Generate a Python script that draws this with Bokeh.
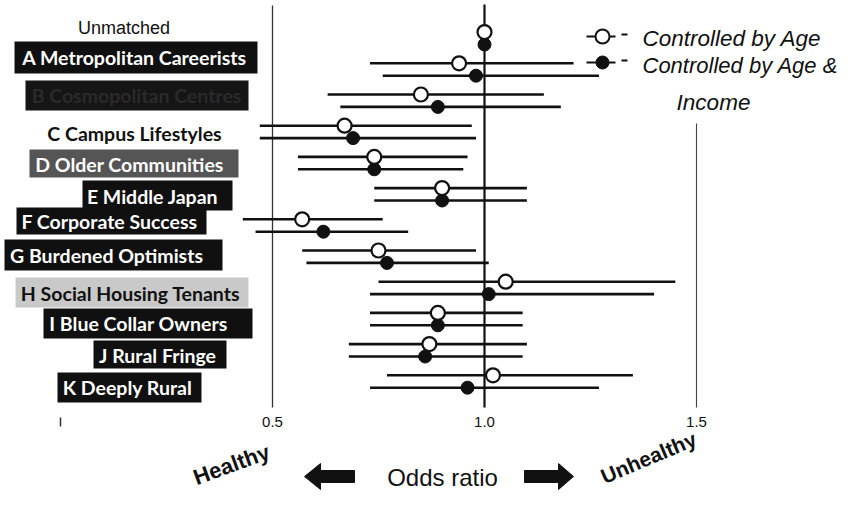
import math
from bokeh.plotting import figure
from bokeh.models import Range1d
from bokeh.core.properties import value
from bokeh.embed import file_html
from bokeh.resources import INLINE

nan = float("nan")

# ---------------- data ----------------
categories = ["Unmatched", "A Metropolitan Careerists", "B Cosmopolitan Centres",
              "C Campus Lifestyles", "D Older Communities", "E Middle Japan",
              "F Corporate Success", "G Burdened Optimists", "H Social Housing Tenants",
              "I Blue Collar Owners", "J Rural Fringe", "K Deeply Rural"]
age_or = [1.00, 0.94, 0.85, 0.67, 0.74, 0.90, 0.57, 0.75, 1.05, 0.89, 0.87, 1.02]
age_lo = [nan, 0.73, 0.63, 0.47, 0.56, 0.74, 0.43, 0.57, 0.75, 0.73, 0.68, 0.77]
age_hi = [nan, 1.21, 1.14, 0.97, 0.96, 1.10, 0.76, 0.98, 1.45, 1.09, 1.10, 1.35]
inc_or = [1.00, 0.98, 0.89, 0.69, 0.74, 0.90, 0.62, 0.77, 1.01, 0.89, 0.86, 0.96]
inc_lo = [nan, 0.76, 0.66, 0.47, 0.56, 0.74, 0.46, 0.58, 0.73, 0.73, 0.68, 0.73]
inc_hi = [nan, 1.27, 1.18, 0.98, 0.95, 1.10, 0.82, 1.01, 1.40, 1.09, 1.09, 1.27]
tick_values = [0.5, 1.0, 1.5]
tick_labels = ["0.5", "1.0", "1.5"]
series_age = "Controlled by Age"
series_inc = ["Controlled by Age &", "Income"]
axis_title = "Odds ratio"
side_labels = ["Healthy", "Unhealthy"]

# ---------------- layout helpers (picture pixel -> data) ----------------
W, H = 841, 490
PX_05, PX_PER_UNIT = 272.0, 424.0
ROW0, ROW_STEP = 37.8, 31.2


def X(px):
    return 0.5 + (px - PX_05) / PX_PER_UNIT


def Y(py):
    return (py - ROW0) / ROW_STEP


p = figure(width=W, height=H, output_backend="svg", toolbar_location=None,
           x_range=Range1d(X(0), X(W)), y_range=Range1d(Y(H), Y(0)),
           x_axis_location=None, y_axis_location=None, min_border=0,
           outline_line_color=None, background_fill_color="white",
           border_fill_color="white")
p.grid.visible = False

INK = "#111111"
ARIAL = value("Liberation Sans")
CAL = value("Lato")
LBL = "19.5px"

# ---------------- category labels ----------------
# (text centre px x, y, box px (l, r, t, b) or None, box colour, text colour, font, size, style)
label_layout = [
    (123.5, 27, None, None, INK, ARIAL, "18px", "normal"),
    (134, 57, (14, 257, 41, 73), "#101010", "white", CAL, LBL, "bold"),
    (136, 95, (25, 248, 80, 110), "#151515", "#2a2a2a", CAL, LBL, "bold"),
    (134, 133, None, None, INK, CAL, LBL, "bold"),
    (129, 164, (29, 238, 149, 177), "#555555", "white", CAL, LBL, "bold"),
    (152, 196, (82, 232, 180, 210), "#101010", "white", CAL, LBL, "bold"),
    (109, 221, (16, 206, 207, 234), "#101010", "white", CAL, LBL, "bold"),
    (106, 255, (4, 222, 239, 270), "#101010", "white", CAL, LBL, "bold"),
    (130, 293, (15, 248, 277, 307), "#c9c9c9", INK, CAL, LBL, "bold"),
    (138, 323, (43, 252, 308, 338), "#101010", "white", CAL, LBL, "bold"),
    (157, 355, (93, 226, 340, 368), "#101010", "white", CAL, LBL, "bold"),
    (127, 387, (57, 201, 372, 402), "#101010", "white", CAL, LBL, "bold"),
]
for name, (tx, ty, box, bcol, tcol, font, size, style) in zip(categories, label_layout):
    if box is not None:
        l, r, t, b = box
        p.quad(left=[X(l)], right=[X(r)], top=[Y(t)], bottom=[Y(b)],
               fill_color=bcol, line_color=None)
    p.text(x=[X(tx)], y=[Y(ty)], text=[name], text_font=font, text_font_size=size,
           text_font_style=style, text_color=tcol, text_align="center",
           text_baseline="middle")

# ---------------- reference lines ----------------
p.segment(x0=[0.5], x1=[0.5], y0=[Y(5)], y1=[Y(407)], line_color="#333333", line_width=1.3)
p.segment(x0=[1.0], x1=[1.0], y0=[Y(4)], y1=[Y(407)], line_color=INK, line_width=2.2)
p.segment(x0=[1.5], x1=[1.5], y0=[Y(123)], y1=[Y(407)], line_color="#444444", line_width=1.1)
p.segment(x0=[0.0], x1=[0.0], y0=[Y(417)], y1=[Y(426)], line_color="#333333", line_width=1.5)

# tick labels
p.text(x=tick_values, y=[Y(421)] * len(tick_values), text=tick_labels, text_font=ARIAL,
       text_font_size="15px", text_color=INK, text_align="center", text_baseline="middle")

# ---------------- confidence intervals & markers ----------------
rows = list(range(len(categories)))
off = 6.2 / ROW_STEP
y_age = [r - off for r in rows]
y_inc = [r + off for r in rows]

p.segment(x0=age_lo, x1=age_hi, y0=y_age, y1=y_age, line_color=INK, line_width=2.6)
p.segment(x0=inc_lo, x1=inc_hi, y0=y_inc, y1=y_inc, line_color=INK, line_width=2.6)
p.scatter(x=inc_or, y=y_inc, size=13, marker="circle", fill_color=INK, line_color=INK,
          line_width=1)
p.scatter(x=age_or, y=y_age, size=14, marker="circle", fill_color="white", line_color=INK,
          line_width=2.2)

# ---------------- legend ----------------
for ly, filled in ((36, False), (62, True)):
    p.segment(x0=[X(586)], x1=[X(615)], y0=[Y(ly)], y1=[Y(ly)], line_color=INK, line_width=2)
    p.segment(x0=[X(621)], x1=[X(627)], y0=[Y(ly - 2)], y1=[Y(ly - 2)], line_color=INK,
              line_width=2)
    p.scatter(x=[X(602)], y=[Y(ly)], size=13 if filled else 14, marker="circle",
              fill_color=INK if filled else "white", line_color=INK,
              line_width=1 if filled else 2)
p.text(x=[X(642)], y=[Y(38)], text=[series_age], text_font=ARIAL, text_font_size="22.5px",
       text_font_style="italic", text_color=INK, text_align="left", text_baseline="middle")
p.text(x=[X(642)], y=[Y(65)], text=[series_inc[0]], text_font=ARIAL, text_font_size="22px",
       text_font_style="italic", text_color=INK, text_align="left", text_baseline="middle")
p.text(x=[X(713)], y=[Y(102)], text=[series_inc[1]], text_font=ARIAL, text_font_size="22.5px",
       text_font_style="italic", text_color=INK, text_align="center", text_baseline="middle")

# ---------------- bottom annotation ----------------
p.text(x=[X(442)], y=[Y(477)], text=[axis_title], text_font=ARIAL, text_font_size="24px",
       text_color=INK, text_align="center", text_baseline="middle")
p.text(x=[X(231)], y=[Y(464)], text=[side_labels[0]], text_font=ARIAL, text_font_size="22px",
       text_font_style="bold", text_color=INK, text_align="center", text_baseline="middle",
       angle=math.radians(20))
p.text(x=[X(648)], y=[Y(457)], text=[side_labels[1]], text_font=ARIAL, text_font_size="21px",
       text_font_style="bold", text_color=INK, text_align="center", text_baseline="middle",
       angle=math.radians(23))

cy, hh, bh = 476.0, 13, 6
left_arrow = [(304, cy), (320, cy - hh), (320, cy - bh), (354, cy - bh),
              (354, cy + bh), (320, cy + bh), (320, cy + hh)]
right_arrow = [(573, cy), (558, cy - hh), (558, cy - bh), (524, cy - bh),
               (524, cy + bh), (558, cy + bh), (558, cy + hh)]
p.patches(xs=[[X(a) for a, _ in left_arrow], [X(a) for a, _ in right_arrow]],
          ys=[[Y(b) for _, b in left_arrow], [Y(b) for _, b in right_arrow]],
          fill_color=INK, line_color=INK)

open("out.html", "w").write(file_html(p, INLINE))
